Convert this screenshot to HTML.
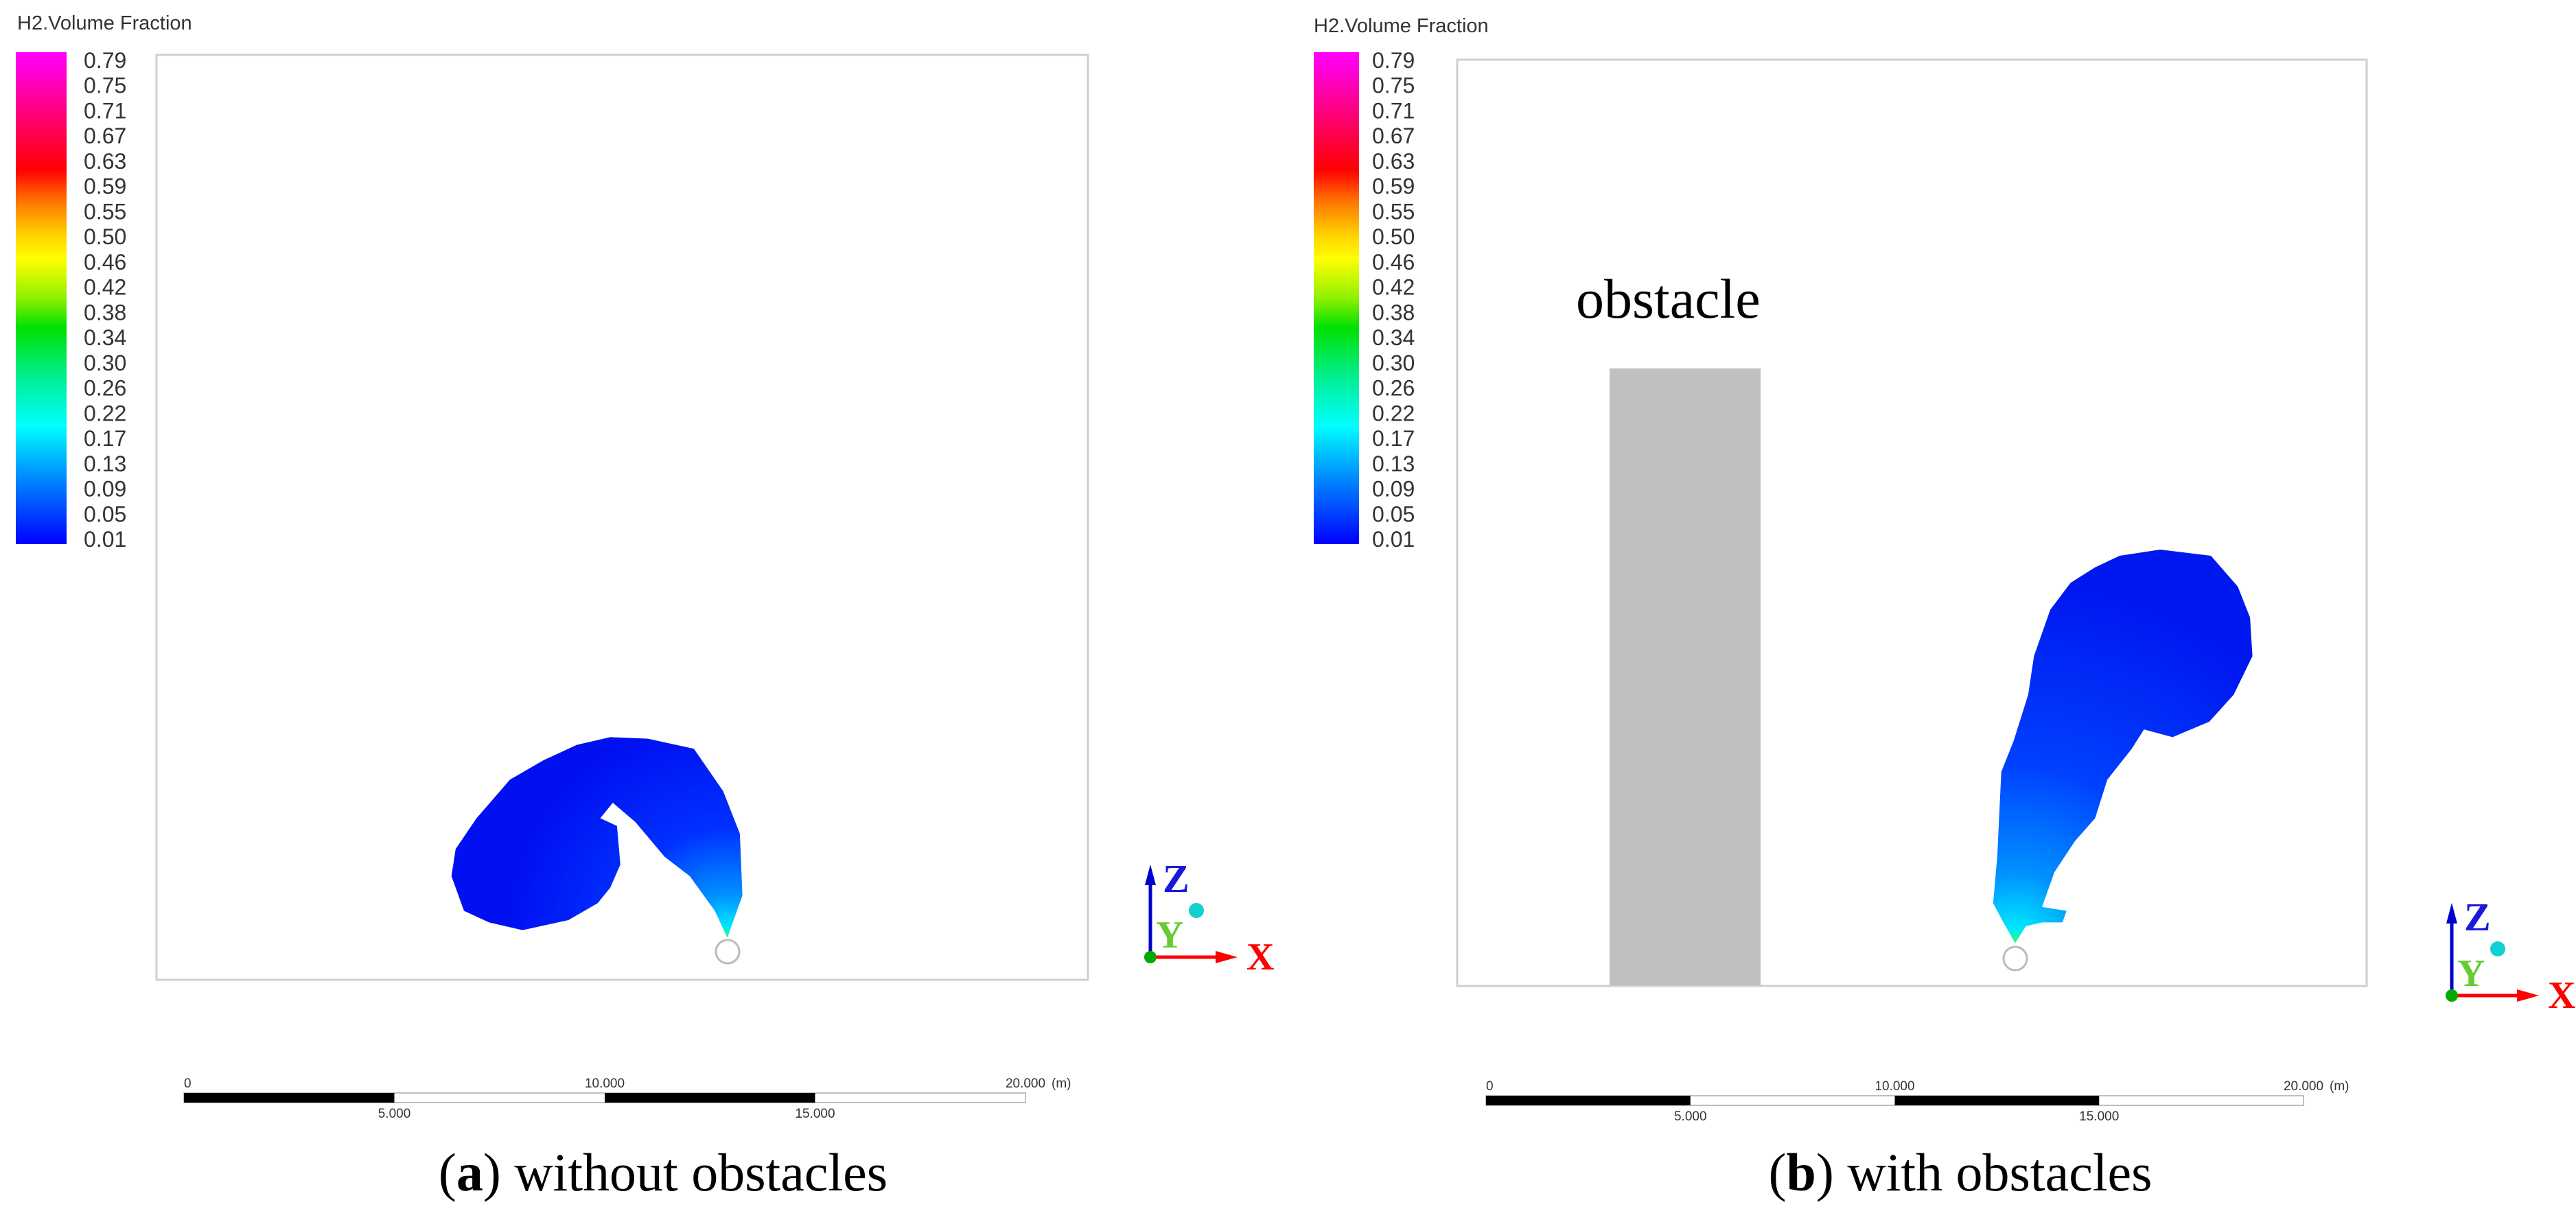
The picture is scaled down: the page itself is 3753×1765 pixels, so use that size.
<!DOCTYPE html>
<html><head><meta charset="utf-8"><style>
html,body{margin:0;padding:0;background:#fff;}
svg{display:block;}
.t{font-family:"Liberation Sans",sans-serif;fill:#333;}
.s{font-family:"Liberation Serif",serif;}
</style></head><body>
<svg id="fig" width="3753" height="1765" viewBox="0 0 3753 1765" xmlns="http://www.w3.org/2000/svg">
<defs>
<linearGradient id="cb" x1="0" y1="0" x2="0" y2="1">
<stop offset="0" stop-color="#ff00ff"/><stop offset="0.18" stop-color="#ff0040"/>
<stop offset="0.24" stop-color="#ff0000"/><stop offset="0.3" stop-color="#ff7000"/>
<stop offset="0.37" stop-color="#ffd000"/><stop offset="0.42" stop-color="#ffff00"/>
<stop offset="0.5" stop-color="#90f000"/><stop offset="0.56" stop-color="#00e000"/>
<stop offset="0.66" stop-color="#00ee90"/><stop offset="0.76" stop-color="#00ffff"/>
<stop offset="0.86" stop-color="#0090ff"/><stop offset="1" stop-color="#0000ff"/>
</linearGradient>
<radialGradient id="pa" gradientUnits="userSpaceOnUse" cx="1060" cy="1367" r="320">
<stop offset="0" stop-color="#30ff60"/><stop offset="0.05" stop-color="#00e8ff"/>
<stop offset="0.2" stop-color="#0090ff"/><stop offset="0.5" stop-color="#0030ff"/><stop offset="1" stop-color="#0010f0"/>
</radialGradient>
<radialGradient id="pb" gradientUnits="userSpaceOnUse" cx="2936" cy="1375" r="520">
<stop offset="0" stop-color="#30ff60"/><stop offset="0.04" stop-color="#00e8ff"/>
<stop offset="0.2" stop-color="#0090ff"/><stop offset="0.5" stop-color="#0040ff"/><stop offset="1" stop-color="#0018f0"/>
</radialGradient>
</defs>
<g id="pa-g"></g>
<g id="pb-g"></g>
</svg>
<script>
const cbLabels = ["0.79","0.75","0.71","0.67","0.63","0.59","0.55","0.50","0.46","0.42","0.38","0.34","0.30","0.26","0.22","0.17","0.13","0.09","0.05","0.01"];
const scaleTopLabels = ["0","10.000","20.000"];
const scaleTopValues = [0,10,20];
const scaleBotLabels = ["5.000","15.000"];
const scaleBotValues = [5,15];
const plumeA = [[870,1215],[888,1160],[885,1080],[865,1025],[830,970],[775,957],[730,955],[690,965],[650,985],[610,1010],[570,1060],[545,1100],[540,1135],[555,1180],[585,1195],[625,1205],[680,1192],[715,1170],[730,1150],[742,1120],[738,1070],[718,1060],[733,1040],[760,1065],[795,1110],[825,1135],[855,1180]];
const plumeB = [[872,1222],[855,1190],[845,1170],[850,1110],[855,1000],[870,960],[888,900],[895,850],[915,790],[940,755],[970,735],[1000,720],[1050,712],[1112,720],[1145,760],[1160,800],[1163,850],[1140,900],[1110,935],[1065,955],[1030,945],[1015,970],[985,1010],[970,1060],[945,1090],[920,1130],[905,1175],[935,1180],[930,1195],[905,1195],[885,1200]];
const NS="http://www.w3.org/2000/svg";
function mk(p,tag,at,txt){const e=document.createElementNS(NS,tag);for(const k in at)e.setAttribute(k,at[k]);if(txt!==undefined)e.textContent=txt;p.appendChild(e);return e;}
function panel(g,c){
  let e;
  e=mk(g,'text',{x:c.tx,y:c.ty,class:'t','font-size':29},'H2.Volume Fraction');
  
  
  e=mk(g,'rect',{x:c.cbx,y:76,width:c.cbw,height:717,fill:'url(#cb)'});
  
  
  const y0=88,y1=786;
  cbLabels.forEach((l,i)=>{
    const y=y0+(y1-y0)*i/(cbLabels.length-1);
    e=mk(g,'text',{x:c.lx,y:y+11,class:'t','font-size':32},l);
    
    
  });
  e=mk(g,'rect',{x:c.bx,y:c.by,width:c.bw,height:c.bh,fill:'#fff',stroke:'#cfcfcf','stroke-width':3});
  
  
  const sx=v=>c.sx0+(c.sx1-c.sx0)*v/20;
  e=mk(g,'rect',{x:c.sx0,y:c.sy,width:c.sx1-c.sx0,height:14,fill:'#fff',stroke:'#aaa','stroke-width':1.5});
  
  
  [[0,5],[10,15]].forEach(s=>{e=mk(g,'rect',{x:sx(s[0]),y:c.sy,width:sx(s[1])-sx(s[0]),height:14,fill:'#000'});
    
    });
  scaleTopValues.forEach((v,i)=>{e=mk(g,'text',{x:sx(v),y:c.sy-8,class:'t','font-size':19,'text-anchor':i==0?'start':'middle'},scaleTopLabels[i]);
    
    });
  e=mk(g,'text',{x:sx(20)+38,y:c.sy-8,class:'t','font-size':19},'(m)');
  
  
  scaleBotValues.forEach((v,i)=>{e=mk(g,'text',{x:sx(v),y:c.sy+36,class:'t','font-size':19,'text-anchor':'middle'},scaleBotLabels[i]);
    
    });
  const ox=c.ox,oy=c.oy;
  mk(g,'line',{x1:ox,y1:oy,x2:ox,y2:oy-110,stroke:'#0000cc','stroke-width':5});
  mk(g,'polygon',{points:`${ox-8},${oy-105} ${ox+8},${oy-105} ${ox},${oy-135}`,fill:'#0000cc'});
  mk(g,'line',{x1:ox,y1:oy,x2:ox+100,y2:oy,stroke:'#ff0000','stroke-width':5});
  mk(g,'polygon',{points:`${ox+95},${oy-9} ${ox+95},${oy+9} ${ox+127},${oy}`,fill:'#ff0000'});
  mk(g,'circle',{cx:ox,cy:oy,r:9,fill:'#00aa00'});
  mk(g,'circle',{cx:ox+67,cy:oy-68,r:11,fill:'#10d0d0'});
  e=mk(g,'text',{x:ox+18,y:oy-95,class:'s','font-size':58,'font-weight':'bold',fill:'#1a1add'},'Z');
  
  
  e=mk(g,'text',{x:ox+8,y:oy-14,class:'s','font-size':56,'font-weight':'bold',fill:'#66cc33'},'Y');
  
  
  e=mk(g,'text',{x:ox+140,y:oy+18,class:'s','font-size':56,'font-weight':'bold',fill:'#ff0000'},'X');
  
  
  e=mk(g,'text',{x:c.capx,y:1735,class:'s','font-size':78,'text-anchor':'middle',fill:'#000'});
  
  
  mk(e,'tspan',{},'(');mk(e,'tspan',{'font-weight':'bold'},c.letter);mk(e,'tspan',{},') '+c.cap);
}
const ga=document.getElementById('pa-g'), gb=document.getElementById('pb-g');
panel(ga,{tx:25,ty:43,cbx:23,cbw:74,lx:122,bx:228,by:80,bw:1357,bh:1348,sx0:268,sx1:1494,sy:1593,ox:1676,oy:1395,capx:966,letter:'a',cap:'without obstacles'});
panel(gb,{tx:1914,ty:47,cbx:1914,cbw:66,lx:1999,bx:2123,by:87,bw:1325,bh:1350,sx0:2165,sx1:3356,sy:1597,ox:3572,oy:1451,capx:2856,letter:'b',cap:'with obstacles'});
let e;
e=mk(gb,'rect',{x:2345,y:537,width:220,height:899,fill:'#c0c0c0'});


e=mk(gb,'text',{x:2296,y:463,class:'s','font-size':82,fill:'#000'},'obstacle');


e=mk(ga,'polygon',{points:plumeA.map(p=>(p[0]*1.218).toFixed(1)+','+(p[1]*1.125).toFixed(1)).join(' '),fill:'url(#pa)'});


e=mk(gb,'polygon',{points:plumeB.map(p=>(1900+p[0]*1.188).toFixed(1)+','+(p[1]*1.125).toFixed(1)).join(' '),fill:'url(#pb)'});


e=mk(ga,'circle',{cx:1060,cy:1387,r:17,fill:'#fff',stroke:'#bbb','stroke-width':3});


e=mk(gb,'circle',{cx:2936,cy:1397,r:17,fill:'#fff',stroke:'#bbb','stroke-width':3});


</script>
</body></html>
